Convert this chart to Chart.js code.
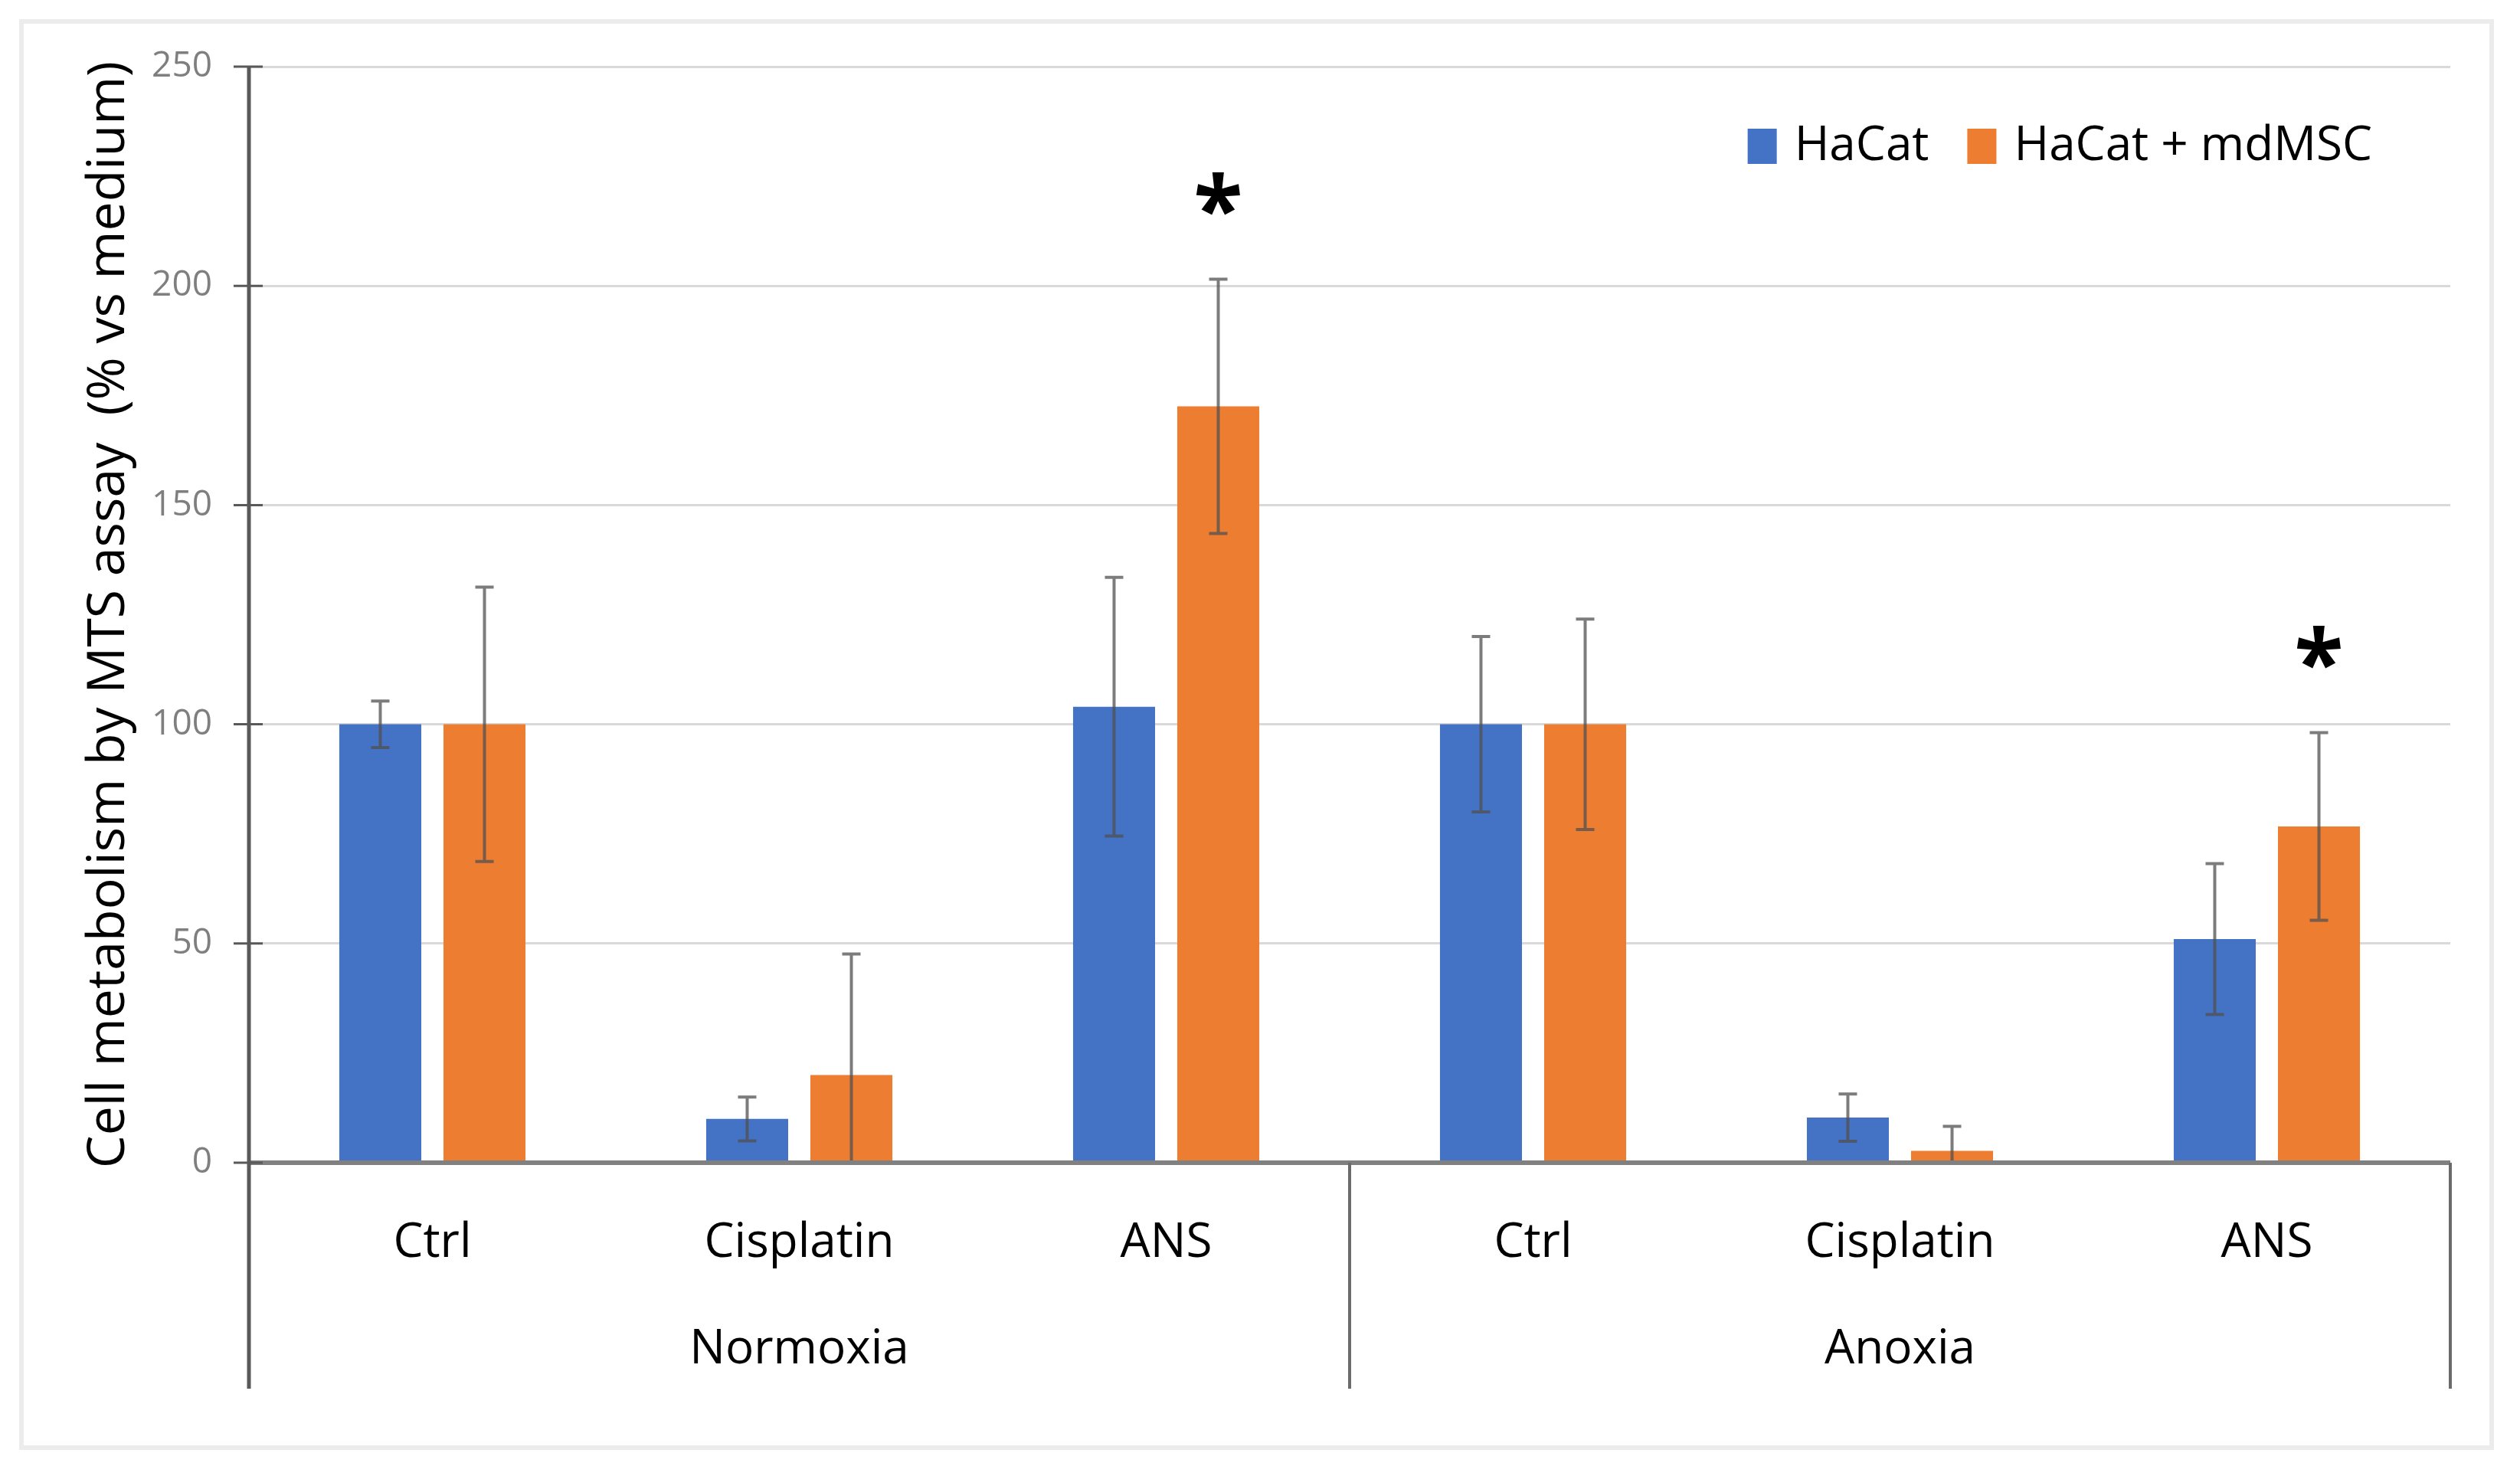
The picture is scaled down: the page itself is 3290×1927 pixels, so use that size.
<!DOCTYPE html>
<html>
<head>
<meta charset="utf-8">
<title>Cell metabolism by MTS assay</title>
<script src="https://cdn.jsdelivr.net/npm/chart.js@4.4.1/dist/chart.umd.min.js"></script>
<style>
  html, body { margin: 0; padding: 0; background: #fff; }
  #wrap { width: 3290px; height: 1927px; position: relative; }
</style>
</head>
<body>
<div id="wrap"><canvas id="mtsChart"></canvas></div>
<script>
// categories and groups (two-level x axis)
const categories = ["Ctrl", "Cisplatin", "ANS", "Ctrl", "Cisplatin", "ANS"];
const groupLabels = ["Normoxia", "Anoxia"];
const groupSizes = [3, 3];

// series (mean and error bar half-length)
const seriesNames = ["HaCat", "HaCat + mdMSC"];
const hacatMean = [100, 10, 104, 100, 10.3, 51];
const hacatErr = [5.3, 5, 29.5, 20, 5.4, 17.2];
const mdmscMean = [100, 20, 172.5, 100, 2.7, 76.7];
const mdmscErr = [31.3, 27.6, 29, 24, 5.6, 21.4];
const mdmscSignificant = [false, false, true, false, false, true];

const yTicks = [0, 50, 100, 150, 200, 250];
const yTitle = "Cell metabolism by MTS assay  (% vs medium)";

const FONT = '"Open Sans", "Noto Sans", sans-serif';

// draws the frame, axes, error bars, group labels, asterisks and legend
const excelLook = {
    id: "excelLook",
    beforeDraw(chart) {
        const ctx = chart.ctx;
        ctx.save();
        ctx.fillStyle = "#fff";
        ctx.fillRect(0, 0, chart.width, chart.height);
        ctx.strokeStyle = "#ececec";
        ctx.lineWidth = 6;
        ctx.strokeRect(28, 28, 3225, 1862);
        ctx.restore();
    },
    afterDatasetsDraw(chart) {
        const ctx = chart.ctx;
        const area = chart.chartArea;
        const x = chart.scales.x;
        const y = chart.scales.y;
        const bottomExt = area.bottom + 295;

        ctx.save();

        // error bars
        const errs = [hacatErr, mdmscErr];
        const means = [hacatMean, mdmscMean];
        ctx.strokeStyle = "rgba(80,80,80,0.75)";
        ctx.lineWidth = 4;
        for (let d = 0; d < 2; d++) {
            const meta = chart.getDatasetMeta(d);
            meta.data.forEach((bar, i) => {
                const hi = y.getPixelForValue(means[d][i] + errs[d][i]);
                const lo = y.getPixelForValue(Math.max(0, means[d][i] - errs[d][i]));
                ctx.beginPath();
                ctx.moveTo(bar.x, hi);
                ctx.lineTo(bar.x, lo);
                ctx.moveTo(bar.x - 12, hi);
                ctx.lineTo(bar.x + 12, hi);
                if (means[d][i] - errs[d][i] > 0) {
                    ctx.moveTo(bar.x - 12, lo);
                    ctx.lineTo(bar.x + 12, lo);
                }
                ctx.stroke();
            });
        }

        // baseline at 0
        ctx.strokeStyle = "#808080";
        ctx.lineWidth = 6;
        ctx.beginPath();
        ctx.moveTo(area.left, y.getPixelForValue(0));
        ctx.lineTo(area.right, y.getPixelForValue(0));
        ctx.stroke();

        // group dividers
        const half = (x.getPixelForValue(1) - x.getPixelForValue(0)) / 2;
        let idx = 0;
        const bounds = [area.left];
        groupSizes.forEach(n => {
            idx += n;
            bounds.push(x.getPixelForValue(idx - 1) + half);
        });
        ctx.strokeStyle = "#6b6b6b";
        ctx.lineWidth = 4;
        bounds.slice(1).forEach(bx => {
            ctx.beginPath();
            ctx.moveTo(bx, area.bottom);
            ctx.lineTo(bx, bottomExt);
            ctx.stroke();
        });

        // y axis line with crossing tick marks
        ctx.strokeStyle = "#595959";
        ctx.lineWidth = 5;
        ctx.beginPath();
        ctx.moveTo(area.left, area.top);
        ctx.lineTo(area.left, bottomExt);
        ctx.stroke();
        ctx.lineWidth = 3;
        yTicks.forEach(v => {
            const py = y.getPixelForValue(v);
            ctx.beginPath();
            ctx.moveTo(area.left - 20, py);
            ctx.lineTo(area.left + 18, py);
            ctx.stroke();
        });

        // group labels
        ctx.fillStyle = "#000";
        ctx.font = "62px " + FONT;
        ctx.textAlign = "center";
        ctx.textBaseline = "middle";
        groupLabels.forEach((g, i) => {
            ctx.fillText(g, (bounds[i] + bounds[i + 1]) / 2, area.bottom + 244);
        });

        // significance asterisks (glyph centre sits about 0.55em above baseline)
        const starSize = 118;
        ctx.font = "bold " + starSize + "px " + FONT;
        ctx.textBaseline = "alphabetic";
        const meta1 = chart.getDatasetMeta(1);
        mdmscSignificant.forEach((s, i) => {
            if (!s) return;
            const cy = y.getPixelForValue(mdmscMean[i] + mdmscErr[i] + 20);
            ctx.fillText("*", meta1.data[i].x, cy + starSize * 0.55);
        });

        // legend
        ctx.font = "62px " + FONT;
        ctx.textAlign = "left";
        ctx.textBaseline = "middle";
        const boxW = 38, boxH = 46, boxGap = 23, itemGap = 50;
        const widths = seriesNames.map(n => ctx.measureText(n).width);
        let total = itemGap * (seriesNames.length - 1);
        widths.forEach(w => { total += boxW + boxGap + w; });
        let lx = area.right - 102 - total;
        const ly = area.top + 104;
        seriesNames.forEach((n, i) => {
            ctx.fillStyle = chart.data.datasets[i].backgroundColor;
            ctx.fillRect(lx, ly - boxH / 2, boxW, boxH);
            ctx.fillStyle = "#000";
            ctx.fillText(n, lx + boxW + boxGap, ly);
            lx += boxW + boxGap + widths[i] + itemGap;
        });

        ctx.restore();
    }
};

const mtsChart = new Chart(document.getElementById("mtsChart"), {
    type: "bar",
    data: {
        labels: categories,
        datasets: [
            {
                label: seriesNames[0],
                data: hacatMean,
                backgroundColor: "#4472C4",
                borderWidth: 0,
            },
            {
                label: seriesNames[1],
                data: mdmscMean,
                backgroundColor: "#ED7D31",
                borderWidth: 0,
            },
        ],
    },
    options: {
        responsive: true,
        maintainAspectRatio: false,
        animation: false,
        layout: { padding: { left: 0, top: 87, right: 91, bottom: 0 } },
        datasets: {
            bar: { categoryPercentage: 0.568, barPercentage: 0.787 },
        },
        scales: {
            x: {
                grid: { display: false },
                border: { display: false },
                ticks: {
                    font: { family: FONT, size: 62 },
                    color: "#000",
                    padding: 60,
                    maxRotation: 0,
                },
                afterFit: scale => { scale.height = 409; },
            },
            y: {
                min: 0,
                max: 250,
                afterBuildTicks: scale => { scale.ticks = yTicks.map(v => ({ value: v })); },
                grid: { color: "#d9d9d9", lineWidth: 3, drawTicks: false },
                border: { display: false },
                ticks: {
                    font: { family: FONT, size: 46 },
                    color: "#7f7f7f",
                    padding: 48,
                },
                title: {
                    display: true,
                    text: yTitle,
                    font: { family: FONT, size: 68 },
                    color: "#000",
                    padding: { top: 102, bottom: 0 },
                },
                afterFit: scale => { scale.width = 325; },
            },
        },
        plugins: {
            legend: { display: false },
            tooltip: { enabled: false },
        },
    },
    plugins: [excelLook],
});
</script>
</body>
</html>
